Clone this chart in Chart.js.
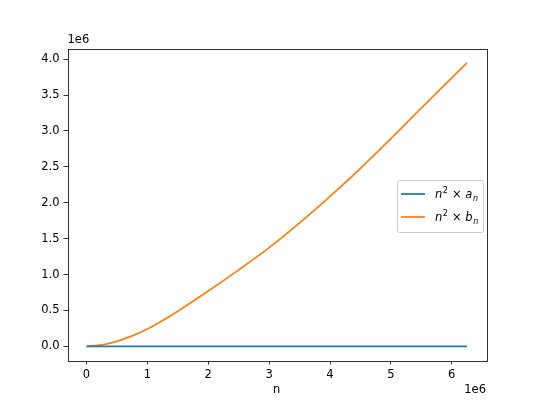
<!DOCTYPE html>
<html>
<head>
<meta charset="utf-8">
<script src="https://cdn.jsdelivr.net/npm/chart.js@4/dist/chart.umd.min.js"></script>
<style>
  html, body { margin: 0; padding: 0; background: #fff; }
  #wrap { width: 540px; height: 405px; }
</style>
</head>
<body>
<div id="wrap"><canvas id="chart" width="540" height="405"></canvas></div>
<script>
// values in units of 1e6
const nVals = [0, 0.25, 0.5, 0.75, 1, 1.5, 2, 2.5, 3, 3.5, 4, 4.5, 5, 5.5, 6, 6.25];
const aVals = [0, 0, 0, 0, 0, 0, 0, 0, 0, 0, 0, 0, 0, 0, 0, 0];
const bVals = [0, 0.02, 0.07, 0.145, 0.24, 0.49, 0.77, 1.065, 1.375, 1.72, 2.09, 2.48, 2.895, 3.32, 3.74, 3.95];
const xTicks = [0, 1, 2, 3, 4, 5, 6];
const yTicks = [0, 0.5, 1, 1.5, 2, 2.5, 3, 3.5, 4];
const SCALE = 1e6;

const FONT = 'DejaVu Sans';
const FS = 11.5;

const toPoints = (ys) => nVals.map((n, i) => ({ x: n * SCALE, y: ys[i] * SCALE }));

// frame, offset text and legend like matplotlib
const mplExtras = {
    id: 'mplExtras',
    afterDraw(chart) {
        const { ctx, chartArea: a } = chart;
        ctx.save();
        ctx.strokeStyle = '#000';
        ctx.lineWidth = 0.8;
        ctx.strokeRect(Math.round(a.left) + 0.5, Math.round(a.top) + 0.5,
            Math.round(a.right - a.left), Math.round(a.bottom - a.top));

        ctx.fillStyle = '#000';
        ctx.font = FS + 'px "' + FONT + '"';
        ctx.textAlign = 'left';
        ctx.textBaseline = 'bottom';
        ctx.fillText('1e6', a.left, a.top - 3);
        ctx.textAlign = 'right';
        ctx.textBaseline = 'top';
        ctx.fillText('1e6', a.right, a.bottom + 24);

        // legend box
        const bx = 397, by = 180, bw = 86, bh = 52;
        ctx.fillStyle = 'rgba(255,255,255,0.8)';
        ctx.strokeStyle = '#ccc';
        ctx.lineWidth = 1;
        ctx.beginPath();
        ctx.roundRect(bx + 0.5, by + 0.5, bw, bh, 2);
        ctx.fill();
        ctx.stroke();

        chart.data.datasets.forEach((ds, i) => {
            const y = by + 14 + i * 23;
            ctx.strokeStyle = ds.borderColor;
            ctx.lineWidth = 1.75;
            ctx.beginPath();
            ctx.moveTo(bx + 4, y);
            ctx.lineTo(bx + 28, y);
            ctx.stroke();

            // label "n² × a_n" drawn with italic math pieces
            let x = bx + 38;
            ctx.fillStyle = '#000';
            ctx.textAlign = 'left';
            ctx.textBaseline = 'alphabetic';
            const base = y + 4;
            ctx.font = 'italic ' + FS + 'px "' + FONT + '"';
            ctx.fillText('n', x, base); x += ctx.measureText('n').width;
            ctx.font = (FS * 0.7) + 'px "' + FONT + '"';
            ctx.fillText('2', x + 0.5, base - 5); x += ctx.measureText('2').width + 1;
            ctx.font = FS + 'px "' + FONT + '"';
            ctx.fillText(' × ', x, base); x += ctx.measureText(' × ').width;
            const letter = ds.mathVar;
            ctx.font = 'italic ' + FS + 'px "' + FONT + '"';
            ctx.fillText(letter, x, base); x += ctx.measureText(letter).width;
            ctx.font = 'italic ' + (FS * 0.7) + 'px "' + FONT + '"';
            ctx.fillText('n', x + 0.5, base + 3);
        });
        ctx.restore();
    }
};

const tickGrid = {
    display: true,
    drawOnChartArea: false,
    drawTicks: true,
    tickLength: 4,
    tickWidth: 0.8,
    color: '#000'
};

new Chart(document.getElementById('chart').getContext('2d'), {
    type: 'line',
    data: {
        datasets: [
            {
                label: 'n² × aₙ',
                mathVar: 'a',
                data: toPoints(aVals),
                borderColor: '#1f77b4',
                borderWidth: 1.75,
                pointRadius: 0,
                fill: false
            },
            {
                label: 'n² × bₙ',
                mathVar: 'b',
                data: toPoints(bVals),
                borderColor: '#ff7f0e',
                borderWidth: 1.75,
                pointRadius: 0,
                cubicInterpolationMode: 'monotone',
                fill: false
            }
        ]
    },
    options: {
        responsive: false,
        animation: false,
        layout: { padding: { left: 0, right: 54, top: 48.6, bottom: 0 } },
        plugins: {
            legend: { display: false },
            tooltip: { enabled: false }
        },
        scales: {
            x: {
                type: 'linear',
                min: -0.3125 * SCALE,
                max: 6.5625 * SCALE,
                grid: tickGrid,
                border: { display: false },
                afterBuildTicks: (axis) => { axis.ticks = xTicks.map(v => ({ value: v * SCALE })); },
                afterFit: (axis) => { axis.height = 44.5; },
                ticks: {
                    color: '#000',
                    padding: 4,
                    maxRotation: 0,
                    font: { family: FONT, size: FS },
                    callback: (v) => String(Math.round(v / SCALE))
                },
                title: {
                    display: true,
                    text: 'n',
                    color: '#000',
                    padding: { top: 0, bottom: 8 },
                    font: { family: FONT, size: FS }
                }
            },
            y: {
                type: 'linear',
                min: -0.1975 * SCALE,
                max: 4.1475 * SCALE,
                grid: tickGrid,
                border: { display: false },
                afterBuildTicks: (axis) => { axis.ticks = yTicks.map(v => ({ value: v * SCALE })); },
                afterFit: (axis) => { axis.width = 67.5; },
                ticks: {
                    color: '#000',
                    padding: 4,
                    font: { family: FONT, size: FS },
                    callback: (v) => (v / SCALE).toFixed(1)
                }
            }
        }
    },
    plugins: [mplExtras]
});
</script>
</body>
</html>
